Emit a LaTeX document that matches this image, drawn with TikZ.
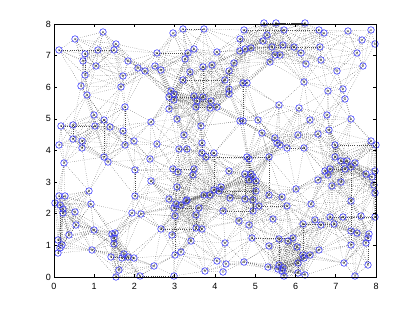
\documentclass[tikz,border=0pt]{standalone}
\usepackage{fontspec}
\setmainfont{Liberation Sans}
\newcount\ii
\newcount\jj
\def\PX#1{\csname px#1\endcsname}
\def\PY#1{\csname py#1\endcsname}
\def\drawedge{\draw[edge] (p\the\ii) -- (p\the\jj);}
\def\testpair{\ifnum\numexpr(\PX{\the\ii}-\PX{\the\jj})*(\PX{\the\ii}-\PX{\the\jj})+(\PY{\the\ii}-\PY{\the\jj})*(\PY{\the\ii}-\PY{\the\jj})\relax<1900 \drawedge\fi}
\def\innerloop{\ifnum\jj<\N\relax \advance\jj by 1 \testpair\expandafter\innerloop\fi}
\def\outerloop{\ifnum\ii<\N\relax \advance\ii by 1 \jj=\ii \innerloop\expandafter\outerloop\fi}
\begin{document}
\begin{tikzpicture}[x=1pt,y=-1pt,
  edge/.style={black!70, line width=0.42pt, dash pattern=on 0.42pt off 1.7pt},
  marker/.style={circle, draw=blue!80!white, line width=0.55pt, minimum size=6.6pt, inner sep=0pt},
  axisline/.style={black, line width=0.6pt},
  ticklabel/.style={font=\fontsize{9}{10}\selectfont, inner sep=0pt}]
\useasboundingbox (0,0) rectangle (415,312);
\foreach \x/\y [count=\i] in {
103/32, 75/39, 59/50, 116/44, 85/54, 98/50, 114/50, 83/61, 96/66, 128/61, 85/75, 123/76, 81/86, 121/87, 87/95, 125/107, 94/115, 104/120, 61/126, 73/125, 95/126, 110/127, 123/131, 134/141, 73/139, 82/141, 59/145, 82/148, 125/145,
183/29, 204/29, 173/33, 157/53, 188/53, 194/49, 185/59, 217/52, 138/68, 145/71, 155/66, 161/70, 190/72, 203/67, 212/65, 183/80, 171/91, 174/94, 169/97, 174/100, 194/96, 203/97, 197/101, 196/107, 211/101, 210/108, 217/107, 169/109, 177/119, 151/122, 201/126, 184/135, 157/144, 202/143, 179/149, 187/149,
264/23, 276/23, 244/30, 284/30, 267/35, 240/39, 263/41, 272/47, 283/45, 294/47, 245/49, 251/48, 240/51, 275/55, 280/55, 270/62, 234/63, 229/71, 225/80, 243/83, 247/83, 229/89, 229/94, 279/105, 299/108, 240/121, 243/121, 258/120, 262/133, 275/138, 277/143, 280/145, 287/148, 298/135,
305/23, 319/30, 324/33, 348/31, 371/30, 362/40, 375/44, 320/47, 301/53, 357/53, 321/60, 306/64, 363/66, 337/71, 304/82, 343/89, 328/91, 345/99, 327/115, 310/120, 351/119, 329/130, 318/134, 371/141, 376/145, 304/148, 335/145,
108/162, 104/157, 64/163, 135/170, 89/191, 59/196, 65/196, 55/203, 60/205, 63/209, 91/204, 63/213, 75/212, 135/196, 132/213, 76/225, 94/230, 69/235, 112/234, 115/233, 114/238, 58/240, 62/245, 60/248, 114/244, 92/250, 58/253, 124/254, 122/258, 128/257, 111/257, 134/258, 119/270, 116/277,
202/153, 206/157, 214/153, 150/159, 173/169, 178/172, 194/169, 193/175, 151/181, 177/187, 214/190, 210/195, 204/195, 169/199, 187/200, 181/205, 186/201, 176/204, 174/208, 199/208, 196/215, 175/216, 141/214, 161/229, 196/228, 202/229, 172/235, 191/241, 181/252, 175/255, 154/266, 205/271, 140/276, 174/276, 217/261,
247/157, 249/159, 269/157, 229/171, 245/174, 251/174, 249/180, 253/177, 256/181, 221/187, 219/191, 296/189, 256/191, 230/198, 245/199, 253/200, 269/195, 282/197, 259/206, 253/211, 287/206, 223/211, 273/219, 239/221, 249/225, 252/238, 279/239, 288/241, 293/238, 297/247, 269/246, 225/243, 226/264, 244/262, 268/267, 279/265, 283/268, 278/269, 282/271, 298/263, 298/273, 284/276, 223/272,
335/157, 341/161, 347/161, 355/163, 351/167, 345/169, 325/171, 330/169, 328/175, 375/171, 366/174, 372/177, 318/180, 341/182, 332/186, 374/185, 375/193, 351/201, 311/204, 361/216, 375/217, 315/220, 321/225, 330/217, 343/217, 334/224, 303/224, 351/231, 357/233, 369/234, 368/238, 366/243, 351/245, 319/250, 310/255, 303/255, 304/258, 344/263, 368/265, 305/275, 355/276}{
  \coordinate (p\i) at (\x,\y);
  \expandafter\xdef\csname px\i\endcsname{\x}
  \expandafter\xdef\csname py\i\endcsname{\y}
  \xdef\N{\i}
}
\ii=0
\outerloop
\foreach \i in {1,...,\N}{
  \node[marker] (m\i) at (p\i) {};
  \fill[black] (p\i) circle (0.55pt);
}
\draw[axisline] (54,24) rectangle (376,277);
\foreach \k in {0,...,8}{
  \draw[axisline] (54+40.25*\k,277) -- ++(0,-3.2);
  \draw[axisline] (54+40.25*\k,24) -- ++(0,3.2);
  \draw[axisline] (54,277-31.625*\k) -- ++(3.2,0);
  \draw[axisline] (376,277-31.625*\k) -- ++(-3.2,0);
  \node[ticklabel] (xl\k) at (54+40.25*\k,286) {\k};
  \node[ticklabel, anchor=east] (yl\k) at (51,277-31.625*\k) {\k};
}
\end{tikzpicture}
\end{document}
